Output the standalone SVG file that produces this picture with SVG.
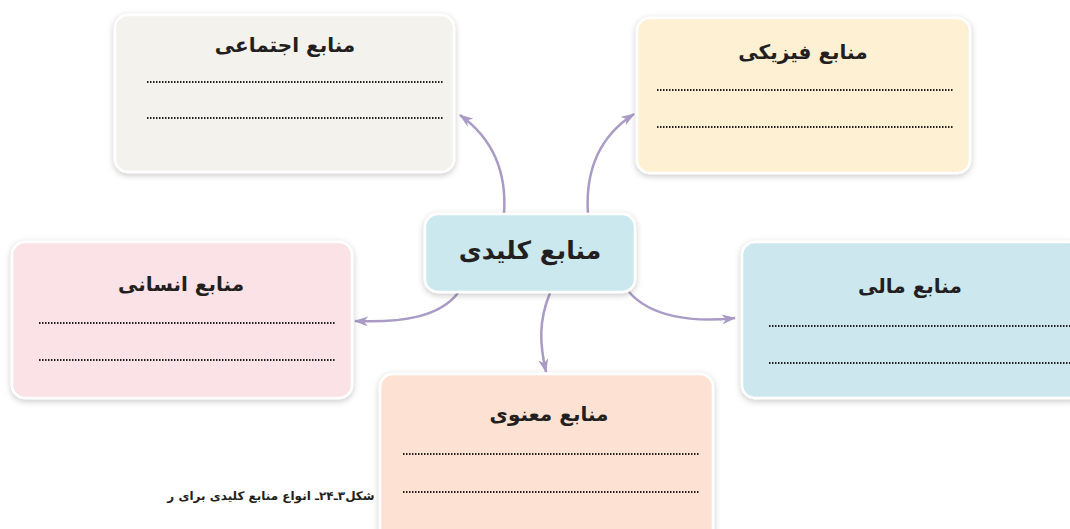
<svg xmlns="http://www.w3.org/2000/svg" width="1070" height="529" viewBox="0 0 1070 529">
<style>
.box{stroke:#ffffff;stroke-width:2.5;filter:url(#sh)}
.title{font-family:"DejaVu Sans",sans-serif;font-weight:bold;font-size:20px;fill:#231f20;text-anchor:middle;direction:rtl}
.dots{stroke:#231f20;stroke-width:1.8;stroke-dasharray:1.5 1.5;fill:none}
.conn{fill:none;stroke:#a99bc6;stroke-width:2.5;marker-end:url(#ah)}
.cap{font-family:"DejaVu Sans",sans-serif;font-weight:bold;font-size:12px;fill:#231f20;text-anchor:middle;direction:rtl}
</style>
<defs>
<filter id="sh" x="-10%" y="-10%" width="120%" height="125%">
<feDropShadow dx="0" dy="2" stdDeviation="3" flood-color="#000" flood-opacity="0.22"/>
</filter>
<marker id="ah" viewBox="0 0 14 10" refX="13" refY="5" markerWidth="14" markerHeight="10" markerUnits="userSpaceOnUse" orient="auto">
<path d="M0,0 L14,5 L0,10 L4,5 Z" fill="#a99bc6"/>
</marker>
</defs>
<rect width="1070" height="529" fill="#ffffff"/>
<g id="connectors">
<path class="conn" d="M504,214 C507,172 492,138 460,115"/>
<path class="conn" d="M588,214 C585,170 600,136 634,114"/>
<path class="conn" d="M458,293 C440,316 405,323 355,321"/>
<path class="conn" d="M629,292 C650,316 690,323 735,318"/>
<path class="conn" d="M550,293 C538,322 540,345 546,372"/>
</g>
<g id="social">
<rect class="box" x="115" y="15" width="339" height="157" rx="13" fill="#f3f2ed"/>
<text class="title" x="285" y="52">منابع اجتماعی</text>
<line class="dots" x1="147" y1="82" x2="443" y2="82"/>
<line class="dots" x1="147" y1="118" x2="443" y2="118"/>
</g>
<g id="physical">
<rect class="box" x="637" y="18" width="333" height="155" rx="13" fill="#fef1d3"/>
<text class="title" x="803" y="59">منابع فیزیکی</text>
<line class="dots" x1="657" y1="90" x2="953" y2="90"/>
<line class="dots" x1="657" y1="127" x2="953" y2="127"/>
</g>
<g id="central">
<rect class="box" x="425" y="214" width="210" height="78" rx="13" fill="#cbe8ee"/>
<text class="title" x="530" y="259" style="font-size:25px">منابع کلیدی</text>
</g>
<g id="human">
<rect class="box" x="12" y="242" width="340" height="156" rx="13" fill="#fbe2e6"/>
<text class="title" x="181" y="291">منابع انسانی</text>
<line class="dots" x1="39" y1="323" x2="336" y2="323"/>
<line class="dots" x1="39" y1="360" x2="336" y2="360"/>
</g>
<g id="financial">
<rect class="box" x="742" y="242" width="340" height="156" rx="13" fill="#cce8ee"/>
<text class="title" x="910" y="293">منابع مالی</text>
<line class="dots" x1="769" y1="326" x2="1070" y2="326"/>
<line class="dots" x1="769" y1="363" x2="1070" y2="363"/>
</g>
<g id="spiritual">
<rect class="box" x="380" y="374" width="333" height="170" rx="13" fill="#fde2d4"/>
<text class="title" x="549" y="421">منابع معنوی</text>
<line class="dots" x1="403" y1="454" x2="700" y2="454"/>
<line class="dots" x1="403" y1="492" x2="700" y2="492"/>
</g>
<text class="cap" x="271" y="500">شکل۳ـ۲۴ـ انواع منابع کلیدی برای ر</text>
</svg>
